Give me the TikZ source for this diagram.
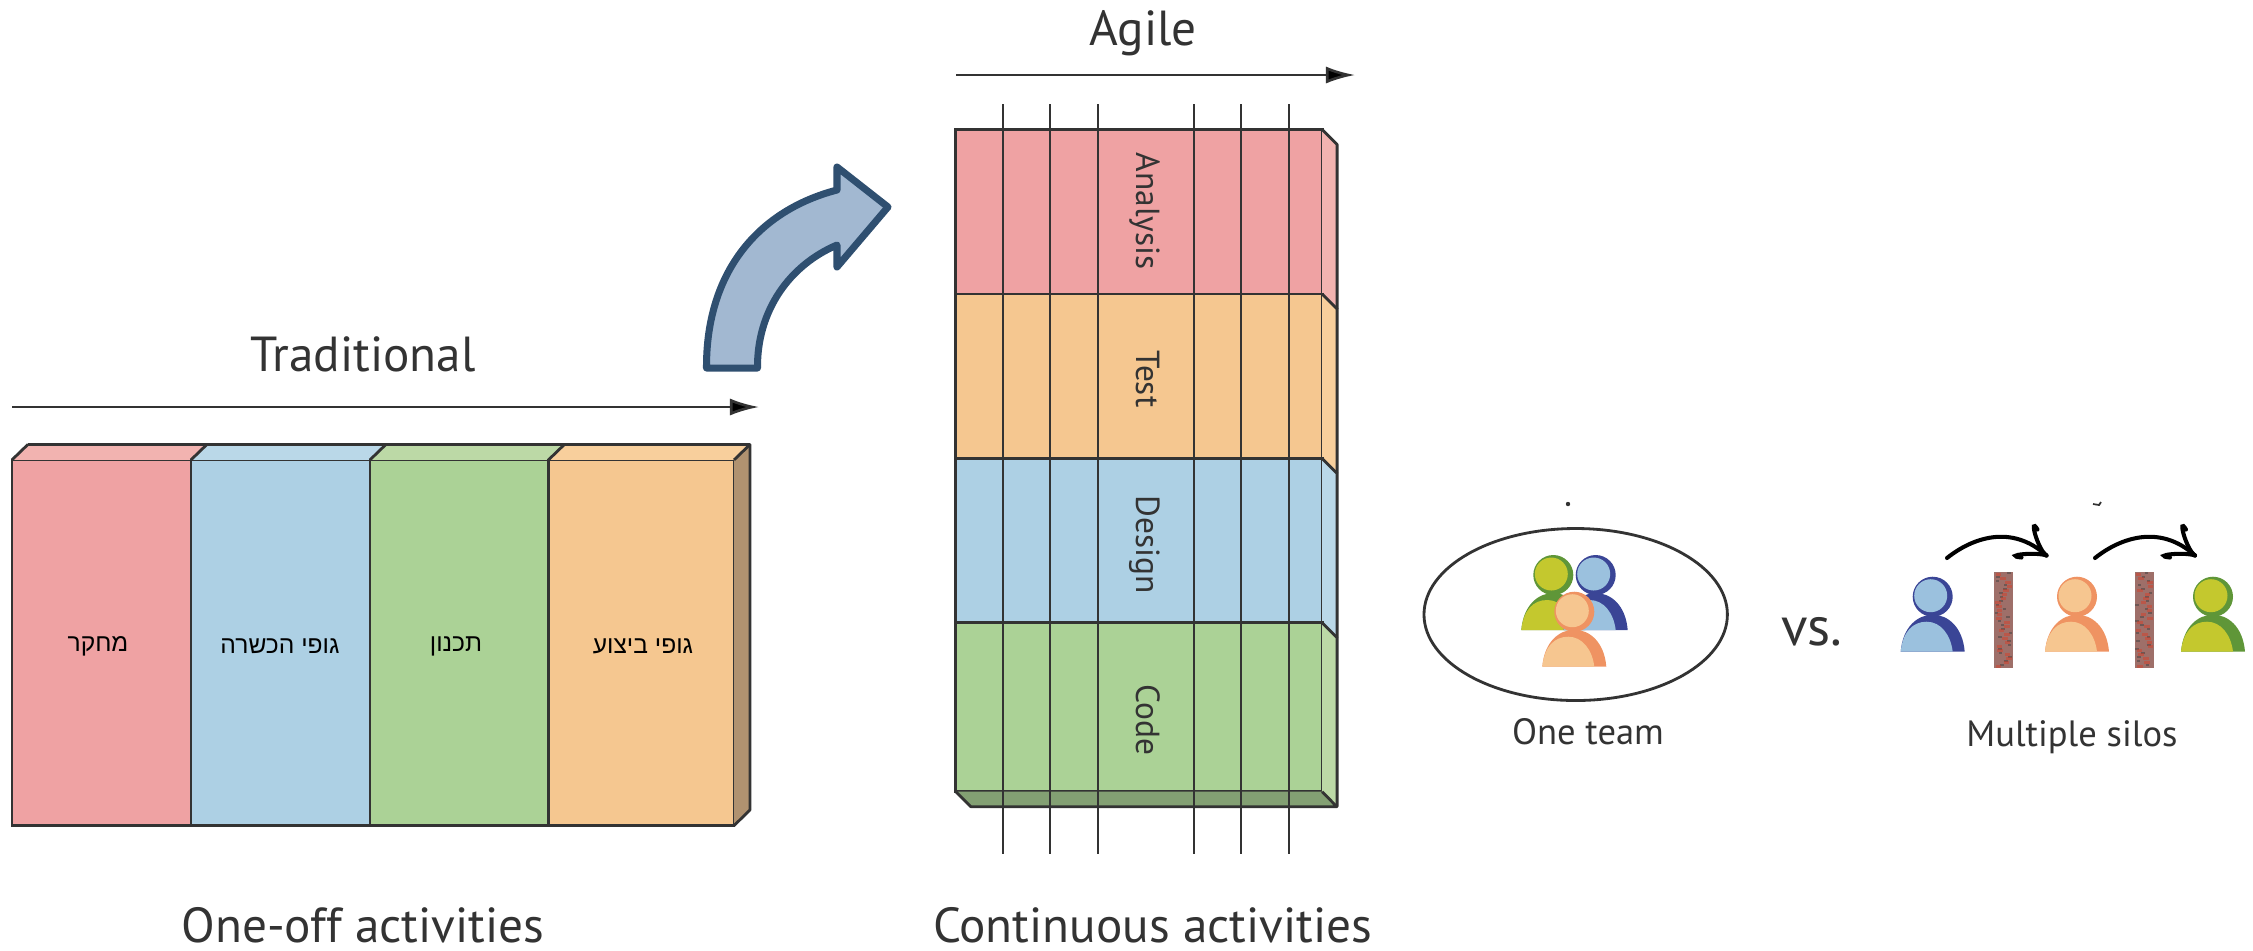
\documentclass[tikz,border=0pt]{standalone}
\usepackage{fontspec}
\setmainfont{PT Sans}
\newfontfamily\hebfont[Script=Hebrew]{Liberation Sans}
\TeXXeTstate=1
\usetikzlibrary{arrows.meta}

\definecolor{redface}{HTML}{EFA2A3}
\definecolor{bluface}{HTML}{ADD0E4}
\definecolor{grnface}{HTML}{ABD296}
\definecolor{orgface}{HTML}{F5C790}
\definecolor{redtop}{HTML}{F2B3B0}
\definecolor{blutop}{HTML}{BAD8E8}
\definecolor{grntop}{HTML}{BCD9A6}
\definecolor{orgtop}{HTML}{F8CF9C}
\definecolor{inkline}{HTML}{333333}
\definecolor{bendfill}{HTML}{A2B8D1}
\definecolor{bendline}{HTML}{2F4F70}
\definecolor{sidebrown}{HTML}{B09270}
\definecolor{sidegreen}{HTML}{83A073}
\definecolor{bludark}{HTML}{3A4596}
\definecolor{blulight}{HTML}{9BC1DE}
\definecolor{grndark}{HTML}{5F9638}
\definecolor{grnlight}{HTML}{C4C82E}
\definecolor{orgdark}{HTML}{EF9362}
\definecolor{orglight}{HTML}{F6C690}
\definecolor{brickbase}{HTML}{9E6F69}

\newcommand{\person}[4]{
    \begin{scope}[shift={(#1,#2)}]
        \fill[#3] (-32,55) .. controls (-30,30) and (-15,18) .. (0,18) .. controls (15,18) and (30,30) .. (32,55) -- cycle;
        \fill[#4] (-32,55) .. controls (-30,35) and (-20,25) .. (-6,25) .. controls (8,25) and (18,38) .. (20,55) -- cycle;
        \fill[#3] (0,0) circle (20);
        \fill[#4] (-2,-1) circle (16.5);
    \end{scope}
}
\newcommand{\brickwall}[1]{
    \fill[brickbase] (#1,572) rectangle ++(18.7,95.7);
    \foreach \r in {0,...,23} {
        \pgfmathsetmacro\dx{rnd*15}
        \fill[black!75,opacity=.5] (#1+\dx,572+\r*4) rectangle ++(3.5,2);
        \pgfmathsetmacro\dx{rnd*13}
        \fill[red!60!brown,opacity=.4] (#1+\dx,573+\r*4) rectangle ++(5.5,2.5);
    }
}

\begin{document}
\begin{tikzpicture}[x=0.01cm,y=-0.01cm,
    slab/.style = {rectangle,draw=inkline,line width=.8pt,outer sep=0mm,minimum height=3.655cm},
    band/.style = {rectangle,draw=inkline,line width=.8pt,outer sep=0mm,minimum width=3.66cm},
    face/.style = {draw=inkline,line width=.8pt,line join=round},
    heading/.style = {inkline,font=\fontsize{14}{16}\selectfont,anchor=base,inner sep=0pt},
    small/.style = {inkline,font=\fontsize{10.4}{12}\selectfont,anchor=base},
    bandtext/.style = {inkline,font=\fontsize{9.5}{12}\selectfont,anchor=base,rotate=-90},
    hebtext/.style = {black,font=\hebfont\fontsize{7}{12}\selectfont},
    timeline/.style = {draw=inkline,line width=.75pt,-{Latex[length=2.9mm,width=1.7mm,fill=black]}},
    tick/.style = {draw=inkline,line width=.55pt},
    hop/.style = {draw=black,line width=1.15pt,line cap=round}]
    \useasboundingbox (0,0) rectangle (2253,950);

    % traditional block
    \foreach \i/\cx/\w/\fc/\tc/\tx/\lab in {
        a/101.5/1.79/redface/redtop/98/\beginR מחקר\endR,
        b/280.5/1.79/bluface/blutop/280/\beginR גופי הכשרה\endR,
        c/459.25/1.785/grnface/grntop/456/\beginR תכנון\endR,
        d/641.25/1.855/orgface/orgtop/643/\beginR גופי ביצוע\endR} {
        \node[slab,fill=\fc,minimum width=\w cm] (slab\i) at (\cx,642.75) {};
        \fill[\tc] (slab\i.north west) -- ++(16,-15.5) -- ++(\w*100,0) -- (slab\i.north east) -- cycle;
        \draw[face] (slab\i.north west) -- ++(16,-15.5);
        \node[hebtext] (lab\i) at (\tx,646) {\lab};
    }
    \fill[sidebrown] (slabd.north east) -- ++(16,-15.5) -- ++(0,365.5) -- (slabd.south east) -- cycle;
    \draw[face] (slaba.north west) ++(16,-15.5) -- ++(722,0) -- ++(0,365.5) -- (slabd.south east);
    \draw[face] (slabd.north east) -- ++(16,-15.5);

    \coordinate (tradfrom) at (12,407);
    \coordinate (tradto) at (759,407);
    \draw[timeline] (tradfrom) -- (tradto);
    \node[heading] (tradhead) at (363,371) {Traditional};
    \node[heading] (oneoff) at (363,942) {One-off activities};

    % bent arrow
    \draw[fill=bendfill,draw=bendline,line width=2pt,line join=round] (706.5,368)
        .. controls (706,270) and (760,210) .. (837,190) -- (837,167) -- (888,207) -- (837,267) -- (837,245)
        .. controls (790,265) and (757,310) .. (757.5,368) -- cycle;

    % agile block
    \foreach \i/\cy/\h/\fc/\tc/\lab/\ly in {
        a/211.65/164.5/redface/redtop/Analysis/211,
        b/376.15/164.5/orgface/orgtop/Test/379,
        c/540.5/164.2/bluface/blutop/Design/545,
        d/707.2/169/grnface/grntop/Code/719.6} {
        \node[band,fill=\fc,minimum height=\h*0.01cm] (band\i) at (1139,\cy) {};
        \fill[\tc] (band\i.north east) -- ++(15,15) -- ++(0,\h) -- (band\i.south east) -- cycle;
        \draw[face] (band\i.north east) -- ++(15,15) -- ++(0,\h);
        \node[bandtext] (text\i) at (1136,\ly) {\lab};
    }
    \fill[sidegreen] (bandd.south west) -- ++(15,15) -- ++(366,0) -- (bandd.south east) -- cycle;
    \draw[face] (bandd.south west) -- ++(15,15) -- ++(366,0) -- (bandd.south east);
    \foreach \x in {1003.3,1050.3,1098.3,1193.7,1241,1289} \draw[tick] (\x,104) -- (\x,854);

    \coordinate (agilefrom) at (956,75);
    \coordinate (agileto) at (1355,75);
    \draw[timeline] (agilefrom) -- (agileto);
    \node[heading] (agilehead) at (1143,45) {Agile};
    \node[heading] (contin) at (1152.6,942) {Continuous activities};

    % one team
    \fill[inkline] (1568,504) circle (2.2);
    \draw[inkline,line width=.8pt] (1575.7,614.5) ellipse [x radius=151.7,y radius=86];
    \person{1553.3}{575}{grndark}{grnlight}
    \person{1595.7}{575}{bludark}{blulight}
    \person{1574.3}{611.7}{orgdark}{orglight}
    \node[small] (oneteam) at (1588,744) {One team};
    \node[inkline,font=\fontsize{15.6}{20}\selectfont,anchor=base] (vs) at (1812,645) {vs.};

    % silos
    \pgfmathsetseed{7}
    \brickwall{1994}
    \brickwall{2135}
    \person{1932.7}{596.7}{bludark}{blulight}
    \person{2077}{596.7}{orgdark}{orglight}
    \person{2213}{596.7}{grndark}{grnlight}
    \coordinate (hopa) at (1947,558);
    \coordinate (hopb) at (2046.5,555.5);
    \coordinate (hopc) at (2095,558);
    \coordinate (hopd) at (2195,555.5);
    \foreach \s/\e in {hopa/hopb,hopc/hopd} {
        \draw[hop] (\s) .. controls +(25,-20) and +(-35,-32) .. (\e);
        \draw[hop] (\e) .. controls +(-9,-6) and +(-9,-15) .. ++(-9,-26);
        \draw[hop] (\e) .. controls +(-11,-4) and +(-20,-2) .. ++(-25,2);
    }
    \draw[inkline,line width=.5pt] (2093,504) -- (2099,505) -- (2101,502);
    \node[small] (silos) at (2072,746) {Multiple silos};
\end{tikzpicture}
\end{document}
